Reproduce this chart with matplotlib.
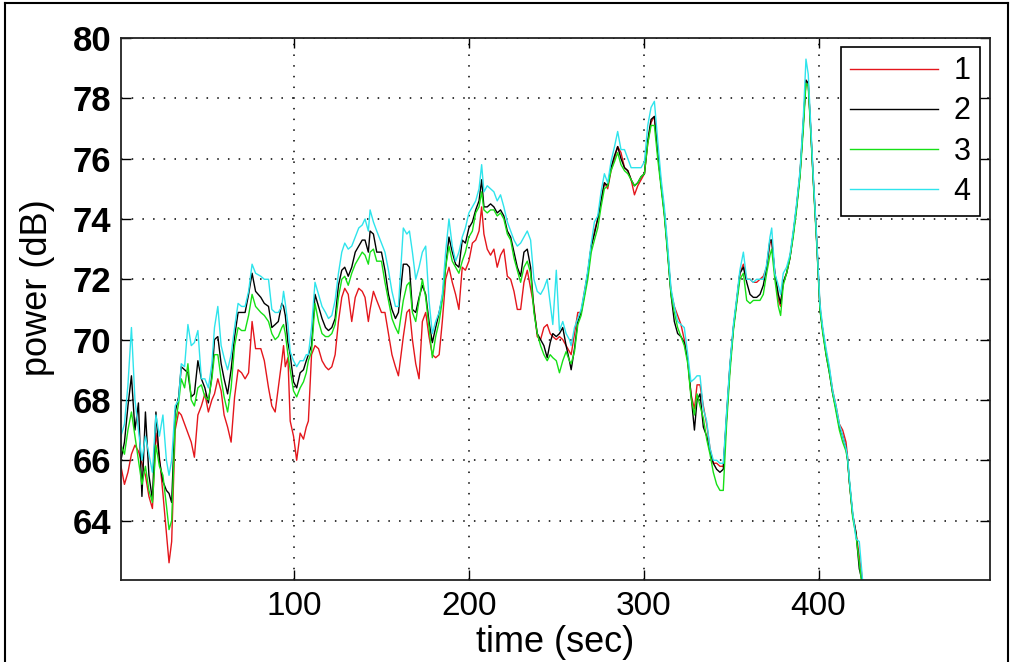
import matplotlib
matplotlib.use("Agg")
import matplotlib.pyplot as plt
from matplotlib.lines import Line2D

plt.rcParams["font.family"] = ["Liberation Sans", "DejaVu Sans"]

# time stamps (sec) shared by the four channels
time_sec = [
    1, 3, 5, 7, 9, 11, 13, 15, 17, 19, 21, 23, 25, 27, 28.5, 30, 32, 34, 35.5, 37.4,
    39.3, 41.2, 43, 45, 47, 49, 51, 53, 54.5, 56.4, 58.3, 60, 62, 64, 66, 68, 70, 72, 74, 76,
    78, 81, 83, 85.4, 87.3, 89.2, 91, 93, 94, 95, 96.5, 97.8, 99.7, 101.5, 103.5, 105.4, 107, 108.2, 110, 112,
    114, 116, 118, 119.7, 121.6, 123.5, 125.4, 127.3, 129, 131, 133, 135, 137, 139, 140.6, 142.5, 143.5, 145.4, 147.3, 150,
    152, 154, 156, 158, 159.7, 162.5, 164.5, 166, 167.7, 169.6, 171.5, 173.4, 175.3, 177.2, 179.1, 181, 183, 184.8, 186.7, 188.6,
    190.5, 192.4, 194.3, 196.2, 198, 200, 202, 203.9, 205.8, 207.3, 208.6, 210.5, 212.4, 214.3, 216.2, 218.1, 220, 222, 223.9, 225.8,
    227.7, 229.6, 231.5, 233.4, 235.3, 237.2, 239.1, 241, 242.9, 244.8, 246.5, 248, 250, 251.8, 253.7, 255.6, 257.5, 258.5, 260.4, 262.3,
    264.2, 266.1, 268, 270, 271.8, 273.7, 275.6, 277.5, 279.4, 281.3, 283.3, 285.1, 287, 289, 290.9, 292.8, 294.7, 296.6, 298.5, 300.4,
    302.3, 304.2, 306.1, 308, 310, 311.8, 313.7, 315.6, 317.5, 319.4, 321.3, 323.2, 325.2, 327, 329, 330.5, 332.2, 334.1, 336, 337.9,
    339.8, 341.7, 343.6, 345.5, 347.4, 349.3, 351.3, 353.2, 355, 357, 358.9, 360.8, 362.7, 364.6, 366.5, 368.4, 370.3, 372.2, 373.2, 375,
    377, 378.3, 379.8, 381.7, 383.6, 385.5, 387.4, 389.4, 391.3, 392.8, 394.1, 395.4, 397, 398.9, 400.8, 402.4, 404.3, 406.2, 408.1, 410,
    411.9, 413.8, 415.7, 416.6, 417.6, 419.5, 421.4, 423.3, 424.5, 425.5,
]

power_1 = [
    65.8, 65.2, 65.6, 66.2, 66.5, 66.3, 65.9, 65.5, 64.8, 64.4, 66.9, 66.1, 64.9, 63.6, 62.6, 63.3, 67.0, 67.6, 67.5, 67.2,
    66.9, 66.6, 66.1, 67.5, 67.8, 68.2, 67.6, 68.0, 68.2, 68.7, 68.3, 67.5, 67.1, 66.6, 68.1, 69.0, 68.9, 68.7, 68.9, 70.6,
    69.7, 69.7, 69.3, 68.4, 67.8, 67.6, 68.4, 69.3, 69.8, 69.1, 69.4, 67.3, 66.8, 66.0, 66.9, 66.7, 67.1, 67.3, 69.5, 69.8,
    69.7, 69.3, 69.1, 69.0, 69.1, 69.5, 70.6, 71.4, 71.7, 71.5, 70.6, 71.4, 71.7, 71.6, 71.4, 70.6, 71.0, 71.6, 71.3, 70.9,
    70.9, 70.2, 69.5, 69.1, 68.8, 70.1, 70.9, 71.0, 70.0, 69.2, 68.7, 70.6, 70.9, 70.1, 69.5, 69.4, 69.5, 70.6, 72.0, 72.4,
    71.9, 71.5, 71.0, 72.4, 72.3, 72.6, 73.2, 73.3, 73.6, 74.4, 73.5, 73.0, 72.8, 73.0, 72.4, 72.8, 73.0, 72.1, 72.0, 71.6,
    71.0, 71.0, 71.9, 72.3, 71.7, 71.1, 70.1, 70.0, 70.4, 70.5, 70.2, 70.1, 70.0, 70.1, 70.0, 69.8, 69.6, 69.5, 70.2, 70.9,
    70.9, 71.6, 72.2, 73.1, 73.6, 74.0, 74.6, 75.2, 75.0, 75.6, 76.0, 76.4, 76.2, 75.7, 75.6, 75.3, 74.8, 75.1, 75.3, 75.5,
    76.5, 77.2, 77.4, 76.2, 75.1, 74.2, 72.9, 71.6, 71.1, 70.8, 70.5, 70.0, 69.3, 68.2, 67.7, 68.5, 68.5, 67.8, 67.2, 66.4,
    65.9, 65.9, 65.8, 65.8, 67.4, 69.1, 70.4, 71.3, 72.2, 72.5, 72.0, 72.0, 71.9, 71.9, 72.0, 72.1, 72.4, 73.2, 73.3, 72.2,
    71.3, 71.1, 71.9, 72.2, 72.7, 73.5, 74.4, 75.5, 77.2, 78.6, 78.5, 77.1, 75.3, 73.3, 71.1, 70.3, 69.6, 69.0, 68.3, 67.8,
    67.2, 67.0, 66.6, 66.1, 65.3, 64.2, 63.6, 62.8, 62.3, 61.8,
]

power_2 = [
    66.0, 66.6, 67.8, 68.8, 67.0, 67.9, 64.8, 67.6, 65.5, 64.7, 67.6, 66.0, 65.3, 65.0, 64.9, 64.6, 67.6, 68.1, 69.1, 69.0,
    68.9, 68.1, 68.2, 69.3, 68.7, 68.4, 67.9, 68.8, 70.0, 70.1, 69.2, 68.7, 68.2, 69.0, 70.1, 70.9, 70.9, 70.9, 71.5, 72.2,
    71.6, 71.4, 71.2, 71.1, 70.4, 70.5, 70.6, 71.2, 71.1, 70.8, 69.9, 69.5, 68.6, 68.4, 68.9, 69.0, 69.3, 69.5, 69.8, 71.5,
    71.1, 70.7, 70.4, 70.3, 70.4, 70.7, 71.8, 72.3, 72.4, 72.1, 72.4, 72.9, 73.1, 73.3, 73.3, 72.9, 73.6, 73.5, 72.9, 72.9,
    72.3, 71.5, 71.0, 70.7, 70.9, 72.5, 72.5, 72.4, 71.0, 70.9, 71.4, 71.8, 71.5, 70.6, 69.9, 70.4, 70.9, 71.4, 72.4, 73.4,
    72.9, 72.5, 72.4, 73.3, 73.2, 73.7, 73.9, 74.3, 74.6, 75.3, 74.4, 74.4, 74.5, 74.4, 74.2, 74.3, 74.1, 73.6, 73.4, 72.9,
    72.4, 72.1, 72.9, 73.0, 72.4, 71.0, 70.2, 70.0, 69.8, 69.4, 69.9, 70.2, 70.1, 70.2, 70.4, 69.8, 69.3, 69.0, 69.7, 70.6,
    70.9, 71.5, 72.2, 73.1, 73.5, 74.0, 74.6, 75.2, 75.1, 75.7, 76.1, 76.4, 76.0, 75.7, 75.6, 75.3, 75.1, 75.2, 75.4, 75.5,
    76.6, 77.3, 77.4, 76.2, 75.1, 74.2, 72.9, 71.5, 70.6, 70.2, 70.1, 69.9, 69.3, 68.2, 67.0, 68.0, 68.2, 67.1, 66.8, 66.3,
    65.9, 65.7, 65.6, 65.7, 67.5, 69.1, 70.4, 71.3, 72.2, 72.4, 71.9, 71.5, 71.4, 71.4, 71.5, 71.8, 72.4, 73.3, 73.3, 72.2,
    71.5, 71.2, 71.9, 72.2, 72.7, 73.5, 74.4, 75.5, 77.2, 78.6, 78.5, 77.1, 75.3, 73.3, 71.0, 70.3, 69.5, 68.9, 68.2, 67.7,
    67.1, 66.8, 66.4, 66.0, 65.3, 64.2, 63.6, 62.4, 62.1, 61.8,
]

power_3 = [
    66.5, 66.2, 67.0, 67.6, 66.8, 66.0, 65.2, 65.8, 65.0, 64.6, 66.5, 65.8, 65.5, 64.5, 63.7, 64.0, 67.2, 67.9, 68.7, 68.4,
    69.2, 68.0, 67.8, 68.4, 68.5, 68.1, 68.0, 68.7, 69.5, 69.5, 68.7, 68.1, 67.6, 68.4, 69.8, 70.4, 70.3, 70.3, 70.8, 71.5,
    71.1, 70.9, 70.8, 70.6, 70.2, 70.0, 70.1, 70.4, 70.5, 70.2, 69.5, 69.0, 68.3, 68.1, 68.4, 68.6, 68.9, 69.3, 69.6, 71.2,
    70.6, 70.2, 70.1, 70.1, 70.2, 70.5, 71.4, 72.0, 72.1, 71.8, 72.2, 72.5, 72.7, 72.9, 72.8, 72.5, 72.9, 73.0, 72.6, 72.6,
    71.9, 71.3, 70.7, 70.4, 70.2, 71.3, 71.8, 71.9, 70.9, 70.6, 71.3, 72.0, 71.4, 70.4, 69.4, 70.1, 70.6, 71.3, 72.4, 73.1,
    72.6, 72.4, 72.2, 72.6, 72.9, 73.4, 73.6, 74.2, 74.4, 74.9, 74.3, 74.2, 74.3, 74.3, 74.1, 74.2, 74.0, 73.5, 73.3, 72.7,
    72.3, 71.9, 72.4, 72.6, 72.2, 70.9, 70.2, 69.8, 69.5, 69.3, 69.5, 69.4, 69.3, 68.9, 69.3, 69.6, 69.3, 69.2, 69.6, 70.5,
    70.8, 71.4, 72.0, 72.9, 73.3, 73.7, 74.4, 75.0, 75.1, 75.6, 75.9, 76.2, 75.8, 75.6, 75.5, 75.3, 75.1, 75.2, 75.4, 75.5,
    76.5, 77.1, 77.1, 76.0, 75.0, 74.1, 72.8, 71.5, 70.9, 70.4, 70.1, 69.8, 69.2, 68.1, 67.5, 68.2, 67.8, 67.4, 66.7, 66.2,
    65.6, 65.2, 65.0, 65.0, 67.2, 68.9, 70.3, 71.2, 72.0, 72.2, 71.3, 71.2, 71.3, 71.3, 71.3, 71.5, 72.2, 72.8, 73.0, 72.0,
    71.1, 70.8, 71.8, 72.2, 72.7, 73.4, 74.3, 75.4, 77.0, 78.5, 78.4, 77.0, 75.2, 73.2, 71.0, 70.2, 69.5, 68.9, 68.2, 67.6,
    67.0, 66.6, 66.3, 66.0, 65.3, 64.1, 63.5, 62.6, 62.0, 61.8,
]

power_4 = [
    66.8, 67.2, 68.5, 70.4, 68.0, 67.0, 66.0, 66.8, 66.2, 65.6, 67.5, 66.8, 67.5, 66.0, 65.5, 66.0, 67.8, 68.0, 69.2, 69.1,
    70.5, 69.8, 69.9, 70.3, 68.7, 68.7, 68.4, 69.2, 70.4, 71.1, 69.8, 69.4, 69.0, 69.5, 70.4, 71.2, 71.1, 71.1, 71.6, 72.5,
    72.2, 72.1, 72.0, 72.0, 71.0, 70.9, 70.9, 71.1, 71.6, 71.2, 70.5, 69.6, 69.3, 69.1, 69.3, 69.3, 69.5, 69.5, 70.4, 71.9,
    71.5, 71.1, 70.9, 70.7, 70.8, 71.3, 72.2, 72.9, 73.2, 73.0, 73.1, 73.4, 73.7, 73.8, 74.0, 73.6, 74.3, 73.9, 73.6, 73.2,
    72.9, 72.3, 71.6, 71.1, 71.1, 73.7, 73.5, 73.6, 72.9, 72.0, 72.4, 72.9, 73.1, 71.3, 70.2, 70.6, 70.9, 71.5, 72.9, 74.0,
    73.1, 72.6, 72.9, 73.4, 73.7, 74.2, 74.4, 74.6, 75.0, 75.8, 74.9, 75.1, 75.0, 74.9, 74.6, 74.8, 74.4, 73.9, 73.6, 73.3,
    73.1, 73.2, 73.4, 73.6, 73.3, 72.0, 71.6, 71.5, 71.7, 72.0, 71.2, 70.5, 72.3, 70.3, 70.6, 70.2, 70.0, 69.8, 70.4, 70.7,
    71.0, 71.6, 72.3, 73.2, 73.9, 74.1, 74.9, 75.5, 75.2, 75.9, 76.4, 76.9, 76.3, 76.3, 76.0, 75.7, 75.7, 75.7, 75.7, 75.9,
    77.1, 77.7, 77.9, 76.6, 75.3, 74.4, 73.1, 71.7, 71.1, 70.6, 70.5, 70.4, 69.5, 68.6, 68.7, 68.8, 68.8, 67.7, 67.3, 66.4,
    66.0, 66.0, 65.9, 65.9, 67.6, 69.2, 70.5, 71.4, 72.3, 72.9, 72.0, 72.0, 71.9, 72.0, 72.0, 72.0, 72.5, 73.4, 73.7, 72.2,
    71.8, 71.5, 72.2, 72.4, 72.8, 73.6, 74.5, 75.6, 77.4, 79.3, 78.8, 77.3, 75.4, 73.4, 71.2, 70.4, 69.7, 69.1, 68.3, 67.8,
    67.2, 66.8, 66.4, 66.1, 65.4, 64.3, 63.4, 63.3, 62.5, 61.8,
]

labels = ["1", "2", "3", "4"]
colors = ["#e4161c", "#000000", "#16e016", "#2ee4ec"]

fig = plt.figure(figsize=(10.13, 6.62), dpi=100)
ax = fig.add_axes([0.1194, 0.1239, 0.8578, 0.8187])

for series, lab, col in zip([power_1, power_2, power_3, power_4], labels, colors):
    ax.plot(time_sec, series, color=col, lw=1.0, label=lab)

ax.set_xlim(1, 498)
ax.set_ylim(62.03, 80)
ax.set_xticks([100, 200, 300, 400])
ax.set_yticks([64, 66, 68, 70, 72, 74, 76, 78, 80])

ax.grid(True, color="black", linestyle=(0, (1, 6)), linewidth=1.1)
ax.set_axisbelow(True)
ax.tick_params(direction="in", length=7, width=1.0, top=True, right=True)
ax.tick_params(axis="x", labelsize=24, pad=8)
ax.tick_params(axis="y", labelsize=25, pad=7)
for lab in ax.get_yticklabels():
    lab.set_fontweight("bold")
for sp in ax.spines.values():
    sp.set_linewidth(1.3)
    sp.set_color("#222222")

ax.set_xlabel("time (sec)", fontsize=26)
ax.set_ylabel("power (dB)", fontsize=26)
ax.xaxis.set_label_coords(0.5, -0.083)
ax.yaxis.set_label_coords(-0.076, 0.54)

leg = ax.legend(loc="upper right", bbox_to_anchor=(0.9885, 0.983), borderaxespad=0,
                fontsize=22, fancybox=False, framealpha=1, edgecolor="black",
                handlelength=2.9, handletextpad=0.5, labelspacing=0.33, borderpad=0.3)
leg.get_frame().set_linewidth(1.2)

# outer frame around the figure
for xs, ys in [([0.005, 0.005], [0.0, 0.995]), ([0.005, 0.995], [0.995, 0.995]), ([0.995, 0.995], [0.0, 0.995])]:
    fig.add_artist(Line2D(xs, ys, color="black", lw=1.5, transform=fig.transFigure))

fig.savefig("out.png", dpi=100)
